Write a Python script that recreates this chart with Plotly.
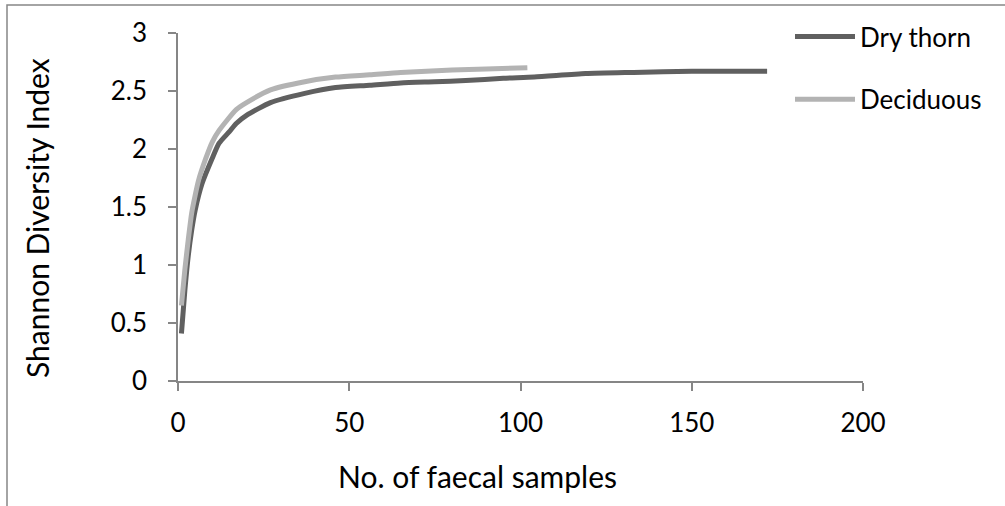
import plotly.graph_objects as go

# Data
dry_x = [1, 2, 3, 4, 5, 7, 10, 12, 15, 17, 20, 27, 37, 46, 56, 65, 75, 84, 95, 104, 119, 133, 150, 172]
dry_y = [0.41, 0.78, 1.08, 1.30, 1.47, 1.70, 1.92, 2.05, 2.15, 2.22, 2.29, 2.40, 2.48, 2.53, 2.55, 2.57, 2.58, 2.59, 2.61, 2.62, 2.65, 2.66, 2.67, 2.67]

dec_x = [1, 2, 3, 4, 5, 6, 8, 10, 12, 17, 20, 27, 37, 46, 56, 65, 80, 90, 102]
dec_y = [0.65, 0.96, 1.22, 1.45, 1.60, 1.73, 1.91, 2.06, 2.16, 2.34, 2.40, 2.51, 2.58, 2.62, 2.64, 2.66, 2.68, 2.69, 2.70]

series_names = ["Dry thorn", "Deciduous"]
x_ticks = [0, 50, 100, 150, 200]
y_ticks = [0, 0.5, 1, 1.5, 2, 2.5, 3]

FONT = "Lato, 'Open Sans', sans-serif"
AX = "#868686"
TICK_SIZE = 26
TITLE_SIZE = 30

fig = go.Figure()
fig.add_trace(go.Scatter(x=dry_x, y=dry_y, mode="lines", name=series_names[0],
                         line=dict(color="#606060", width=5, shape="spline", smoothing=0.6),
                         legendgroup="a"))
fig.add_trace(go.Scatter(x=dec_x, y=dec_y, mode="lines", name=series_names[1],
                         line=dict(color="#b3b3b3", width=5, shape="spline", smoothing=0.6),
                         legendgroup="b"))

L, R, T, B = 178, 863, 33, 381
W, H = 1005, 506
pw, ph = R - L, B - T

def px_x(p):
    return (p - L) / pw

def px_y(p):
    return (B - p) / ph

fig.update_layout(
    width=W, height=H,
    margin=dict(l=L, r=W - R, t=T, b=H - B, pad=0),
    paper_bgcolor="white", plot_bgcolor="white",
    font=dict(family=FONT, size=TICK_SIZE, color="black"),
    showlegend=True,
    legend=dict(x=px_x(790), y=px_y(13), xanchor="left", yanchor="top",
                font=dict(size=TICK_SIZE), bgcolor="rgba(0,0,0,0)",
                tracegroupgap=26, itemwidth=60),
    xaxis=dict(range=[0, 200], tickvals=x_ticks, ticks="outside", ticklen=8,
               tickcolor=AX, tickwidth=1.5, showline=True, linecolor=AX, linewidth=1.5,
               showgrid=False, zeroline=False, ticklabelstandoff=10,
               tickfont=dict(size=TICK_SIZE, color="black")),
    yaxis=dict(range=[0, 3], tickvals=y_ticks, ticks="outside", ticklen=8,
               tickcolor=AX, tickwidth=1.5, showline=True, linecolor=AX, linewidth=1.5,
               showgrid=False, zeroline=False, ticklabelstandoff=16,
               tickfont=dict(size=TICK_SIZE, color="black")),
    annotations=[
        dict(text="No. of faecal samples", xref="paper", yref="paper",
             x=px_x(477), y=px_y(476), xanchor="center", yanchor="middle",
             showarrow=False, font=dict(size=TITLE_SIZE, color="black")),
        dict(text="Shannon Diversity Index", xref="paper", yref="paper",
             x=px_x(37), y=px_y(218), xanchor="center", yanchor="middle",
             textangle=-90, showarrow=False, font=dict(size=TITLE_SIZE, color="black")),
    ],
    shapes=[
        dict(type="rect", xref="paper", yref="paper",
             x0=px_x(7), x1=px_x(1015), y0=px_y(5), y1=px_y(530),
             line=dict(color=AX, width=1.5), layer="below"),
    ],
)

fig.write_html("out.html")
